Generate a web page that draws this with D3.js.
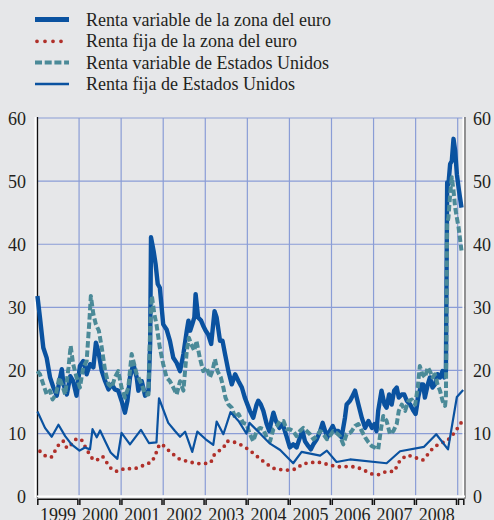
<!DOCTYPE html>
<html>
<head>
<meta charset="utf-8">
<script src="https://cdn.jsdelivr.net/npm/d3@7/dist/d3.min.js"></script>
<style>
  html, body { margin: 0; padding: 0; background: #e6e7e9; }
  svg text { font-family: "Liberation Serif", "DejaVu Serif", serif; font-size: 18px; fill: #231f20; }
</style>
</head>
<body>
<svg id="chart" width="494" height="520"></svg>
<script>
// volatility series, [decimal year, value]
var euroEquity = [
  [1999.01,31.8],[1999.07,28.4],[1999.15,23.6],[1999.23,22],[1999.31,18.9],[1999.39,17.3],[1999.47,16],
  [1999.55,18.9],[1999.59,20.2],[1999.63,17.8],[1999.71,16.2],[1999.79,19.1],[1999.86,18.3],[1999.94,16],
  [2000.02,20.7],[2000.10,21.5],[2000.18,19.4],[2000.26,21],[2000.34,20.5],[2000.40,24.4],[2000.46,23],
  [2000.54,19.9],[2000.62,18.3],[2000.70,17],[2000.78,17.8],[2000.85,17],[2000.93,16.8],[2001.01,15.2],
  [2001.09,13.3],[2001.15,15.2],[2001.21,18.9],[2001.29,21],[2001.37,18.9],[2001.41,16.8],[2001.49,18.3],
  [2001.57,16],[2001.65,16.8],[2001.69,24.2],[2001.71,41.1],[2001.77,39],[2001.82,36.8],[2001.87,33.7],
  [2001.92,33.1],[2002.00,27.3],[2002.08,26.5],[2002.16,24.7],[2002.24,22],[2002.32,21.2],[2002.40,19.9],
  [2002.48,22.6],[2002.56,26.3],[2002.60,27.9],[2002.64,26.3],[2002.69,27.3],[2002.74,28.4],[2002.77,32.1],
  [2002.83,28.4],[2002.90,27.9],[2002.95,27.1],[2003.01,26.3],[2003.07,25.7],[2003.14,24.2],[2003.22,29.4],
  [2003.27,28.4],[2003.35,24.7],[2003.41,24.7],[2003.47,22.6],[2003.55,19.9],[2003.63,17.8],[2003.71,19.4],
  [2003.79,18.3],[2003.87,17.3],[2003.94,15.7],[2004.06,13.6],[2004.14,12.5],[2004.22,14.6],[2004.26,15.2],
  [2004.32,14.6],[2004.38,13.6],[2004.46,11.5],[2004.52,10.4],[2004.58,12.2],[2004.62,13.3],[2004.68,12],
  [2004.76,10.9],[2004.84,11.5],[2004.93,9.6],[2005.01,7.8],[2005.09,8.3],[2005.17,7.8],[2005.25,9.4],
  [2005.31,10.4],[2005.37,8.8],[2005.45,8],[2005.51,7.5],[2005.57,8.3],[2005.65,9.1],[2005.73,10.4],
  [2005.79,11.7],[2005.85,10.4],[2005.90,9.4],[2005.96,10.4],[2006.03,11.2],[2006.08,10.4],[2006.16,10.4],
  [2006.24,9.4],[2006.32,12.5],[2006.36,14.6],[2006.44,15.2],[2006.48,15.7],[2006.56,16.8],[2006.64,14.6],
  [2006.72,12.5],[2006.80,10.9],[2006.88,12],[2006.96,10.9],[2007.02,11.5],[2007.07,10.4],[2007.11,13.6],
  [2007.19,16.8],[2007.26,14.6],[2007.31,14.1],[2007.37,16.2],[2007.43,14.6],[2007.49,16.8],[2007.55,17.3],
  [2007.60,15.7],[2007.67,16.2],[2007.73,16.2],[2007.79,15.2],[2007.87,14.6],[2007.95,13.6],[2008.00,13.1],
  [2008.06,15.7],[2008.13,17.8],[2008.18,17.8],[2008.22,15.7],[2008.29,17.8],[2008.34,18.9],[2008.40,17.3],
  [2008.46,17.8],[2008.52,19.4],[2008.58,18.9],[2008.64,19.9],[2008.68,18.9],[2008.72,19.9],[2008.75,49.8],
  [2008.78,49.5],[2008.82,52.7],[2008.86,53.2],[2008.90,56.7],[2008.94,54.8],[2008.98,51.1],[2009.03,48.5],
  [2009.09,45.8]
];

var euroBond = [
  [1999.07,7.2],[1999.23,6.3],[1999.35,6.3],[1999.45,7.5],[1999.55,8.6],[1999.63,8.8],[1999.71,7.7],
  [1999.82,8.3],[1999.94,9.2],[2000.06,9.0],[2000.14,8.0],[2000.24,6.8],[2000.34,5.8],[2000.46,5.9],
  [2000.56,6.4],[2000.67,5.3],[2000.78,4.3],[2000.91,4.0],[2001.09,4.5],[2001.27,4.4],[2001.41,4.6],
  [2001.57,5.1],[2001.73,5.5],[2001.82,6.7],[2001.88,7.9],[2001.96,8.4],[2002.10,7.5],[2002.24,6.7],
  [2002.40,5.9],[2002.58,5.6],[2002.76,5.3],[2002.95,5.2],[2003.13,5.4],[2003.21,6.6],[2003.31,7.2],
  [2003.43,7.7],[2003.51,8.8],[2003.67,8.7],[2003.85,8.2],[2004.00,7.6],[2004.16,6.8],[2004.30,6.0],
  [2004.46,5.2],[2004.62,4.5],[2004.79,4.3],[2004.99,4.2],[2005.16,4.4],[2005.31,5.2],[2005.49,5.4],
  [2005.67,5.5],[2005.86,5.2],[2006.04,4.9],[2006.23,4.7],[2006.40,4.8],[2006.60,4.7],[2006.77,4.2],
  [2006.96,3.6],[2007.13,3.5],[2007.30,4.0],[2007.49,4.0],[2007.64,5.9],[2007.81,6.6],[2007.99,6.2],
  [2008.17,5.8],[2008.29,6.7],[2008.41,7.7],[2008.56,8.4],[2008.74,8.8],[2008.87,9.7],[2008.98,10.7],
  [2009.08,11.7]
];

var usEquity = [
  [1999.01,19.9],[1999.07,19.4],[1999.15,17.8],[1999.23,16.2],[1999.31,16.8],[1999.37,15.4],[1999.45,16.2],
  [1999.53,18.9],[1999.59,17.8],[1999.67,16.2],[1999.75,20.5],[1999.80,23.9],[1999.86,21],[1999.94,18.9],
  [2000.02,17.3],[2000.10,20.5],[2000.18,21.5],[2000.24,27.3],[2000.28,31.8],[2000.34,28.9],[2000.40,27.3],
  [2000.47,26.3],[2000.54,23.6],[2000.62,19.9],[2000.70,17.8],[2000.78,17.3],[2000.85,18.9],[2000.93,19.9],
  [2001.01,17.3],[2001.09,15.7],[2001.17,17.3],[2001.25,22.6],[2001.31,21],[2001.37,19.4],[2001.41,18.9],
  [2001.49,17.8],[2001.57,16.2],[2001.65,16.2],[2001.69,26.8],[2001.73,31.8],[2001.79,28.9],[2001.84,27.3],
  [2001.92,23.6],[2002.00,21],[2002.08,18.9],[2002.16,18.3],[2002.24,17.3],[2002.32,16.2],[2002.40,18.3],
  [2002.48,16.8],[2002.56,23.1],[2002.61,25.2],[2002.66,24.2],[2002.74,23.1],[2002.79,24.7],[2002.87,22],
  [2002.95,19.9],[2003.03,20.5],[2003.11,18.9],[2003.17,19.9],[2003.23,21.8],[2003.29,19.9],[2003.37,18.9],
  [2003.43,17.3],[2003.48,15.7],[2003.55,14.6],[2003.63,14.1],[2003.71,12.5],[2003.79,13.1],[2003.90,11.7],
  [2003.98,11.5],[2004.06,9.9],[2004.14,8.8],[2004.22,10.4],[2004.30,10.9],[2004.38,10.7],[2004.46,9.4],
  [2004.54,8.8],[2004.62,10.7],[2004.70,11.2],[2004.78,12],[2004.86,12],[2004.93,10.7],[2005.01,10.7],
  [2005.09,10.4],[2005.17,9.6],[2005.25,10.4],[2005.33,10.9],[2005.41,10.4],[2005.49,9.9],[2005.57,9.1],
  [2005.65,9.6],[2005.73,10.4],[2005.81,9.9],[2005.89,9.1],[2005.96,9.6],[2006.04,10.4],[2006.12,10.1],
  [2006.20,9.6],[2006.28,8.3],[2006.36,9.9],[2006.44,10.1],[2006.48,10.4],[2006.56,11.2],[2006.64,11.5],
  [2006.72,10.4],[2006.80,9.4],[2006.88,8.6],[2006.96,8.0],[2007.03,7.8],[2007.11,7.5],[2007.18,10.9],
  [2007.23,12.8],[2007.31,12],[2007.39,9.9],[2007.47,10.4],[2007.55,11.5],[2007.60,13.6],[2007.67,14.6],
  [2007.75,13.6],[2007.83,15.2],[2007.91,15.4],[2007.99,14.6],[2008.05,17.3],[2008.10,20.7],[2008.16,19.4],
  [2008.22,18.9],[2008.29,20.5],[2008.34,19.9],[2008.40,18.9],[2008.46,19.4],[2008.52,17.8],[2008.58,16.8],
  [2008.64,15.2],[2008.70,14.4],[2008.72,15.7],[2008.75,43.2],[2008.78,44.2],[2008.82,47.9],[2008.86,50.6],
  [2008.90,48.5],[2008.94,45.8],[2008.98,44.2],[2009.02,42.7],[2009.09,39]
];

var usBond = [
  [1999.01,13.5],[1999.19,10.9],[1999.35,9.5],[1999.51,11.4],[1999.67,9.6],[1999.82,8.3],[2000.01,7.3],
  [2000.14,7.8],[2000.26,7.5],[2000.32,10.7],[2000.42,9.4],[2000.50,10.5],[2000.62,8.8],[2000.75,7.0],
  [2000.91,6.0],[2001.01,10.1],[2001.21,8.3],[2001.47,10.6],[2001.66,8.5],[2001.84,8.6],[2001.90,15.6],
  [2002.12,11.7],[2002.28,10.4],[2002.40,9.5],[2002.52,10.3],[2002.69,7.1],[2002.81,10.3],[2003.01,9.1],
  [2003.19,8.2],[2003.27,11.9],[2003.43,9.9],[2003.60,13.4],[2003.79,12],[2003.98,10.0],[2004.05,11.7],
  [2004.26,10.3],[2004.54,8.4],[2004.78,7.4],[2005.09,5.3],[2005.29,7.1],[2005.73,6.5],[2005.89,7.3],
  [2006.12,5.5],[2006.44,5.9],[2007.31,5.3],[2007.63,7.2],[2008.20,7.9],[2008.49,9.9],[2008.77,7.5],
  [2008.98,15.8],[2009.13,16.9]
];

var years = [1999, 2000, 2001, 2002, 2003, 2004, 2005, 2006, 2007, 2008];
var yTicks = [0, 10, 20, 30, 40, 50, 60];

var series = [
  {name: 'Renta variable de la zona del euro', data: euroEquity, color: '#0a52a0', width: 4.4, dash: null},
  {name: 'Renta variable de Estados Unidos', data: usEquity, color: '#4b8a98', width: 4, dash: '6.5,2.8'},
  {name: 'Renta fija de la zona del euro', data: euroBond, color: '#b0302a', width: 3.8, dash: '0,6.8', cap: 'round'},
  {name: 'Renta fija de Estados Unidos', data: usBond, color: '#0a52a0', width: 2.2, dash: null}
];
var legendOrder = [0, 2, 1, 3];

(function draw() {
  var svg = d3.select('#chart');
  var pl = 37, pr = 465, pt = 118, pb = 496.7;

  var x = d3.scaleLinear().domain([1999, 2009]).range([pl, 457.7]);
  var y = d3.scaleLinear().domain([0, 60]).range([pb, pt]);

  svg.append('rect').attr('width', 494).attr('height', 520).attr('fill', '#e6e7e9');

  // grid
  svg.append('g').selectAll('line')
    .data(yTicks.filter(function(d) { return d > 0; }))
    .enter().append('line')
    .attr('x1', pl).attr('x2', pr)
    .attr('y1', function(d) { return y(d); }).attr('y2', function(d) { return y(d); })
    .attr('stroke', '#8a9dd6').attr('stroke-width', 1.2);

  svg.append('g').selectAll('line')
    .data(years.slice(1).concat([2009]))
    .enter().append('line')
    .attr('x1', function(d) { return x(d); }).attr('x2', function(d) { return x(d); })
    .attr('y1', pt).attr('y2', pb - 1.5)
    .attr('stroke', '#8a9dd6').attr('stroke-width', 1.2);

  // frame
  svg.append('line').attr('x1', pl - 1.5).attr('x2', pl - 1.5).attr('y1', pt - 1).attr('y2', pb + 1)
    .attr('stroke', '#fff').attr('stroke-width', 2);
  svg.append('line').attr('x1', pl + 0.5).attr('x2', pl + 0.5).attr('y1', pt - 1).attr('y2', pb + 1)
    .attr('stroke', '#111').attr('stroke-width', 1.3);
  svg.append('line').attr('x1', pr - 1.8).attr('x2', pr - 1.8).attr('y1', pt - 1).attr('y2', pb)
    .attr('stroke', '#fff').attr('stroke-width', 1.5);
  svg.append('line').attr('x1', pr).attr('x2', pr).attr('y1', pt - 1).attr('y2', pb + 2)
    .attr('stroke', '#7b7b7b').attr('stroke-width', 1.6);
  svg.append('line').attr('x1', pl).attr('x2', pr).attr('y1', pb - 0.3).attr('y2', pb - 0.3)
    .attr('stroke', '#fff').attr('stroke-width', 1.6);

  // x axis brackets
  var edges = years.concat([2009]);
  var segs = [];
  for (var i = 0; i < edges.length; i++) {
    var a = x(edges[i]);
    var b = i < edges.length - 1 ? x(edges[i + 1]) : pr;
    segs.push([a, b]);
  }
  svg.append('g').selectAll('path')
    .data(segs)
    .enter().append('path')
    .attr('d', function(s) {
      return 'M' + (s[0] + 0.8) + ',505V499.2H' + (s[1] - 1.2) + 'V505';
    })
    .attr('fill', 'none').attr('stroke', '#111').attr('stroke-width', 1.5);

  svg.append('g').selectAll('text')
    .data(years)
    .enter().append('text')
    .attr('x', function(d) { return x(d + 0.5); })
    .attr('y', 521)
    .attr('text-anchor', 'middle')
    .text(function(d) { return d; });

  // y labels
  svg.append('g').selectAll('text')
    .data(yTicks)
    .enter().append('text')
    .attr('x', 26).attr('y', function(d) { return y(d) + 6.5; })
    .attr('text-anchor', 'end')
    .text(function(d) { return d; });
  svg.append('g').selectAll('text')
    .data(yTicks)
    .enter().append('text')
    .attr('x', 473).attr('y', function(d) { return y(d) + 6.5; })
    .text(function(d) { return d; });

  // lines
  var line = d3.line()
    .x(function(d) { return x(d[0]); })
    .y(function(d) { return y(d[1]); });

  series.forEach(function(s) {
    svg.append('path')
      .datum(s.data)
      .attr('d', line)
      .attr('fill', 'none')
      .attr('stroke', s.color)
      .attr('stroke-width', s.width)
      .attr('stroke-linejoin', 'round')
      .attr('stroke-linecap', s.cap || 'butt')
      .attr('stroke-dasharray', s.dash);
  });

  // legend
  var lg = svg.append('g');
  var rowY = [19.5, 41.3, 62.5, 84];
  legendOrder.forEach(function(k, i) {
    var s = series[k];
    lg.append('line')
      .attr('x1', s.cap ? 37 : 35).attr('x2', 69)
      .attr('y1', rowY[i]).attr('y2', rowY[i])
      .attr('stroke', s.color)
      .attr('stroke-width', k === 0 ? 5 : (k === 3 ? 2.4 : s.width))
      .attr('stroke-linecap', s.cap || 'butt')
      .attr('stroke-dasharray', s.cap ? '0,8' : (s.dash ? '7,2.7' : null));
    lg.append('text')
      .attr('x', 86).attr('y', rowY[i] + 6)
      .text(s.name);
  });
})();
</script>
</body>
</html>
